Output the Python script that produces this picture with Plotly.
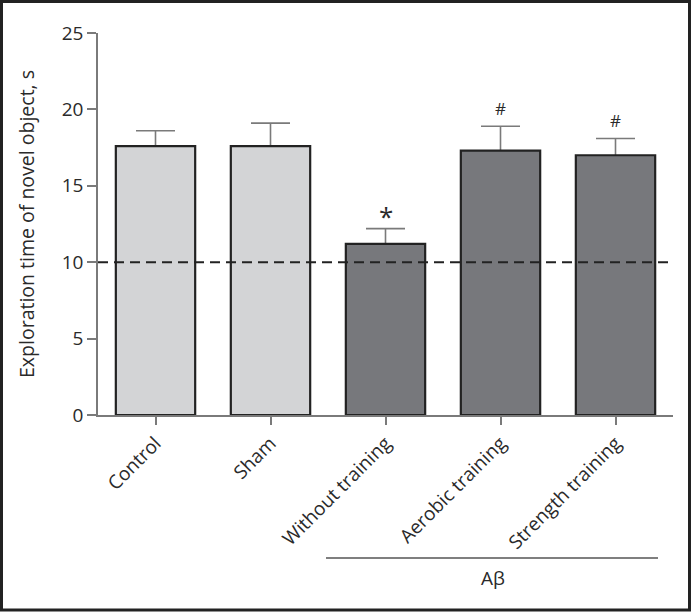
import plotly.graph_objects as go

groups = ["Control", "Sham", "Without training", "Aerobic training", "Strength training"]
means = [17.6, 17.6, 11.2, 17.3, 17.0]
err_up = [1.0, 1.5, 1.0, 1.6, 1.1]
bar_colors = ["#d3d4d6", "#d3d4d6", "#77787c", "#77787c", "#77787c"]
marks = ["", "", "*", "#", "#"]
chance_level = 10

W, H = 691, 612
L, R, T, B = 98, 18, 33, 197
pw, ph = W - L - R, H - T - B


def px_x(x):
    return (x - L) / pw


def px_y(y):
    return (H - B - y) / ph


FONT = "Open Sans"
INK = "#2a2a2a"
xs = list(range(len(groups)))

fig = go.Figure()
# invisible carrier for the error bars, drawn underneath so the bars hide the lower half
fig.add_trace(go.Bar(
    x=xs, y=means, width=0.69,
    marker=dict(color="rgba(0,0,0,0)", line=dict(width=0)),
    error_y=dict(type="data", array=err_up, color="#7a7a7a", thickness=1.6, width=19.5),
    showlegend=False, hoverinfo="skip",
))
fig.add_trace(go.Bar(
    x=xs, y=means, width=0.69,
    marker=dict(color=bar_colors, line=dict(color="#222222", width=2.2)),
    showlegend=False, hoverinfo="skip",
))

for i, m in enumerate(marks):
    if not m:
        continue
    star = m == "*"
    fig.add_annotation(x=i, y=means[i] + err_up[i], text=m, showarrow=False,
                       yanchor="bottom", yshift=-7 if star else 4,
                       font=dict(family=FONT, size=26 if star else 17, color=INK))

# chance-level dashed line
fig.add_shape(type="line", xref="paper", x0=0, x1=1, yref="y", y0=chance_level, y1=chance_level,
              line=dict(color="#222222", width=2, dash="10px,6px"), layer="above")

# A-beta bracket under the last three groups
fig.add_shape(type="line", xref="paper", yref="paper", x0=px_x(326), x1=px_x(658),
              y0=px_y(558), y1=px_y(558), line=dict(color="#555555", width=1.3))
fig.add_annotation(xref="paper", yref="paper", x=px_x(493), y=px_y(578), text="Aβ",
                   xanchor="center", yanchor="middle",
                   showarrow=False, font=dict(family=FONT, size=19, color=INK))

# outer frame
fig.add_shape(type="rect", xref="paper", yref="paper", x0=px_x(1.5), x1=px_x(689.5),
              y0=px_y(610), y1=px_y(1.5), line=dict(color="#222222", width=3))

fig.update_xaxes(
    tickmode="array", tickvals=xs, ticktext=groups,
    range=[-0.5, len(groups) - 0.5], tickangle=-45,
    showline=True, linecolor="#7a7a7a", linewidth=1.5,
    ticks="outside", ticklen=8, tickwidth=1.5, tickcolor="#7a7a7a",
    showgrid=False, zeroline=False,
    tickfont=dict(family=FONT, size=19, color=INK),
)
fig.update_yaxes(
    range=[0, 25], tickvals=[0, 5, 10, 15, 20, 25],
    showline=True, linecolor="#7a7a7a", linewidth=1.5,
    ticks="outside", ticklen=9, tickwidth=1.5, tickcolor="#7a7a7a",
    showgrid=False, zeroline=False,
    tickfont=dict(family=FONT, size=19, color=INK),
    title=dict(text="Exploration time of novel object, s", standoff=22,
               font=dict(family=FONT, size=19.5, color=INK)),
)
fig.update_layout(
    width=W, height=H, margin=dict(l=L, r=R, t=T, b=B),
    barmode="overlay",
    plot_bgcolor="white", paper_bgcolor="white",
)

fig.write_html("out.html", config={"displayModeBar": False},
               post_script="document.body.style.margin='0';")
